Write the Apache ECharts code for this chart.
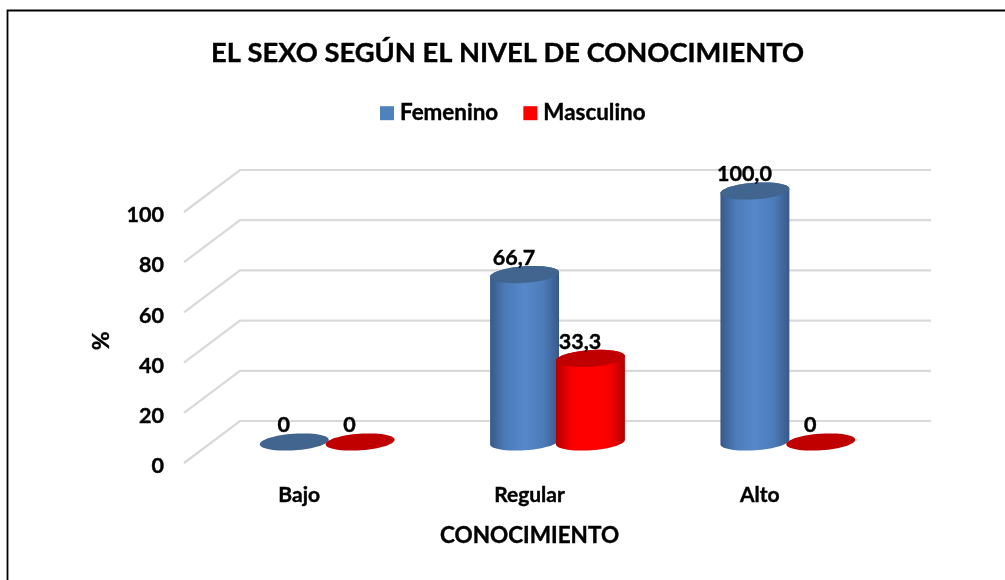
<!DOCTYPE html>
<html><head><meta charset="utf-8">
<style>html,body{margin:0;padding:0;background:#fff}#c{width:1005px;height:580px}</style>
<script src="https://cdn.jsdelivr.net/npm/echarts@6/dist/echarts.min.js"></script>
</head><body><div id="c"></div>
<script>
const categories = ['Bajo', 'Regular', 'Alto'];
const femenino = [0, 66.7, 100];
const masculino = [0, 33.3, 0];
const femeninoLabels = ['0', '66,7', '100,0'];
const masculinoLabels = ['0', '33,3', '0'];
const yTicks = [0, 20, 40, 60, 80, 100];

const FONT = 'Lato, Carlito, "Open Sans", sans-serif';
const DX = 28, DY = 21;
const heavy = { textBorderColor: '#000', textBorderWidth: 0.4 };

function ellipsePts(cx, cy, rx, ry, tilt, from, to, n) {
  const pts = [];
  for (let i = 0; i <= n; i++) {
    const t = from + (to - from) * i / n;
    const x = rx * Math.cos(t), y = ry * Math.sin(t);
    pts.push([cx + x * Math.cos(tilt) + y * Math.sin(tilt), cy - x * Math.sin(tilt) + y * Math.cos(tilt)]);
  }
  return pts;
}

function cylinder(labels, offsetRatio, pal) {
  return function (params, api) {
    const i = api.value(0);
    const v = api.value(1);
    const base = api.coord([i, 0]);
    const top = api.coord([i, v]);
    const band = api.size([1, 0])[0];
    const cx = base[0] + band * offsetRatio;
    const rx = band * 0.15, ry = 8.3, tilt = 0.07;
    const children = [];
    if (v > 0) {
      const lower = ellipsePts(cx, base[1], rx, ry, tilt, 0, Math.PI, 32);
      const upper = ellipsePts(cx, top[1], rx, ry, tilt, Math.PI, 2 * Math.PI, 32);
      children.push({
        type: 'polygon', shape: { points: lower.concat(upper) },
        style: { fill: new echarts.graphic.LinearGradient(0, 0, 1, 0, pal.body) }
      });
    }
    children.push({
      type: 'polygon', shape: { points: ellipsePts(cx, top[1], rx, ry, tilt, 0, 2 * Math.PI, 64) },
      style: { fill: pal.cap }
    });
    children.push({
      type: 'text', z2: 20,
      style: {
        x: cx - 10.5, y: top[1] - 16.5, text: labels[i], align: 'center', verticalAlign: 'middle',
        font: 'bold 21.5px ' + FONT, fill: '#000', stroke: '#000', lineWidth: 0.4
      }
    });
    return { type: 'group', children };
  };
}

const bluePal = {
  cap: '#41658f',
  body: [{ offset: 0, color: '#37598a' }, { offset: 0.22, color: '#4c7bb8' }, { offset: 0.5, color: '#5688ca' },
         { offset: 0.78, color: '#4c7bb8' }, { offset: 1, color: '#37598a' }]
};
const redPal = {
  cap: '#c00000',
  body: [{ offset: 0, color: '#b00000' }, { offset: 0.2, color: '#f40000' }, { offset: 0.35, color: '#ff0000' },
         { offset: 0.65, color: '#ff0000' }, { offset: 0.8, color: '#f40000' }, { offset: 1, color: '#b00000' }]
};

const chart = echarts.init(document.getElementById('c'), null, { renderer: 'canvas' });
chart.setOption({
  animation: false,
  backgroundColor: '#fff',
  title: {
    text: 'EL SEXO SEGÚN EL NIVEL DE CONOCIMIENTO', left: 502.5, top: 35, textAlign: 'center',
    textStyle: { fontFamily: FONT, fontWeight: 'bold', fontSize: 27.3, color: '#000', ...heavy }
  },
  legend: {
    top: 97, left: 375, itemWidth: 14, itemHeight: 14, itemGap: 25,
    textStyle: { fontFamily: FONT, fontWeight: 'bold', fontSize: 22.4, color: '#000', padding: [0, 0, 0, 1], ...heavy },
    data: [
      { name: 'Femenino', icon: 'rect', itemStyle: { color: '#4f81bd' } },
      { name: 'Masculino', icon: 'rect', itemStyle: { color: '#ff0000' } }
    ]
  },
  grid: [
    { left: 212, width: 691, top: 191, bottom: 138 },
    { left: 184, width: 691, top: 215, bottom: 113.5 }
  ],
  xAxis: [
    { gridIndex: 0, type: 'category', data: categories, show: false },
    {
      gridIndex: 1, type: 'category', data: categories,
      axisLine: { show: false }, axisTick: { show: false },
      axisLabel: { margin: 18, fontFamily: FONT, fontWeight: 'bold', fontSize: 21, color: '#000', ...heavy },
      name: 'CONOCIMIENTO', nameLocation: 'middle', nameGap: 58,
      nameTextStyle: { fontFamily: FONT, fontWeight: 'bold', fontSize: 22.5, color: '#000', ...heavy }
    }
  ],
  yAxis: [
    { gridIndex: 0, type: 'value', min: 0, max: 100, interval: 20, show: false },
    {
      gridIndex: 1, type: 'value', min: 0, max: 100, interval: 20,
      axisLine: { show: false }, axisTick: { show: false }, splitLine: { show: false },
      axisLabel: { margin: 20, fontFamily: FONT, fontWeight: 'bold', fontSize: 21.5, color: '#000', ...heavy },
      name: '%', nameLocation: 'middle', nameGap: 71, nameRotate: 90,
      nameTextStyle: { fontFamily: FONT, fontWeight: 'bold', fontSize: 23, color: '#000', ...heavy }
    }
  ],
  graphic: [{
    type: 'polyline', silent: true,
    shape: { points: [[7.5, 600], [7.5, 10.5], [1010, 10.5]] },
    style: { stroke: '#000', lineWidth: 1.8, fill: null }
  }],
  series: [
    {
      type: 'custom', name: 'walls', xAxisIndex: 0, yAxisIndex: 0, silent: true, z: 1,
      data: yTicks.map(t => [0, t]),
      encode: { x: 0, y: 1 },
      renderItem(params, api) {
        const y = api.coord([0, api.value(1)])[1];
        const g = params.coordSys;
        return {
          type: 'polyline',
          shape: { points: [[g.x - DX, y + DY], [g.x + DX, y - DY], [g.x + g.width + DX, y - DY]] },
          style: { stroke: '#d9d9d9', lineWidth: 2.2, fill: null }
        };
      }
    },
    {
      type: 'custom', name: 'Femenino', xAxisIndex: 0, yAxisIndex: 0, z: 2,
      itemStyle: { color: '#4f81bd' },
      data: femenino.map((v, i) => [i, v]), encode: { x: 0, y: 1 },
      renderItem: cylinder(femeninoLabels, -0.143, bluePal)
    },
    {
      type: 'custom', name: 'Masculino', xAxisIndex: 0, yAxisIndex: 0, z: 3,
      itemStyle: { color: '#ff0000' },
      data: masculino.map((v, i) => [i, v]), encode: { x: 0, y: 1 },
      renderItem: cylinder(masculinoLabels, 0.143, redPal)
    }
  ]
});
</script></body></html>
